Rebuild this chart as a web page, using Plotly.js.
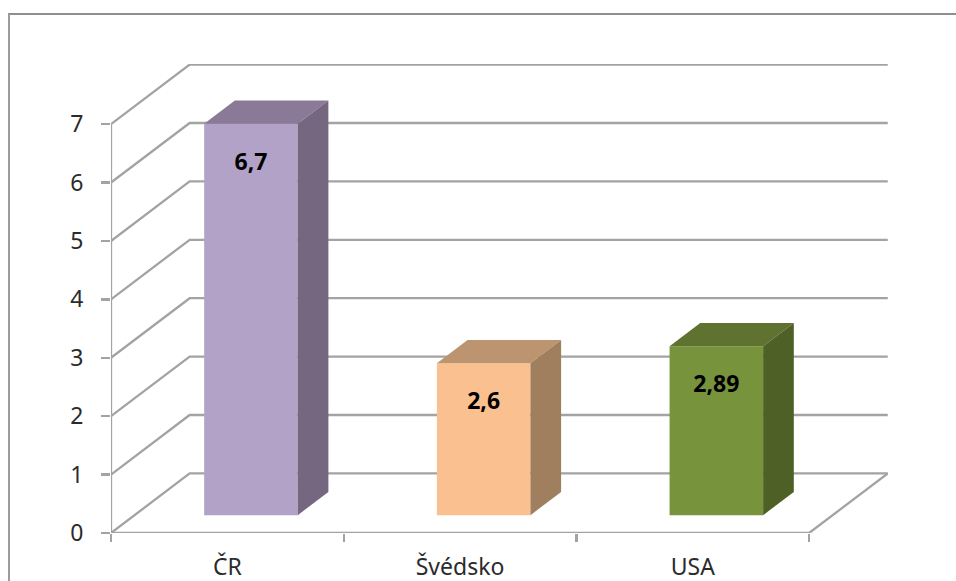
<!DOCTYPE html>
<html>
<head>
<meta charset="utf-8">
<script src="https://cdn.plot.ly/plotly-3.0.1.min.js"></script>
<style>
  html, body { margin: 0; padding: 0; background: #fff; overflow: hidden; }
  #chart { position: absolute; left: 0; top: 0; width: 956px; height: 581px; }
  #frame { position: absolute; left: 8px; top: 13px; right: 0; bottom: 0;
           border-top: 2px solid #8e8e8e; border-left: 2px solid #9c9c9c; pointer-events: none; }
</style>
</head>
<body>
<div id="chart"></div>
<div id="frame"></div>
<script>
const categories = ['ČR', 'Švédsko', 'USA'];
const values = [6.7, 2.6, 2.89];
const frontColors = ['#b2a2c7', '#fac090', '#77933c'];
const topColors = ['#8a7a97', '#bc9470', '#5f7230'];
const sideColors = ['#75677f', '#a07f5f', '#4f6026'];
const valueTicks = [0, 1, 2, 3, 4, 5, 6, 7];

// Oblique projection: how far one full step of depth shifts a point, in axis units.
const depthX = 0.338, depthY = 1.02;
const barStart = 0.3, barDepth = 0.39, barWidth = 0.402;
const labelDrop = 0.69;

const left = -0.5, right = categories.length - 0.5;
const gridColor = '#a3a3a3';
const textColor = '#2b2b2b';
const traces = [];

function wallLine(xs, ys) {
  traces.push({ type: 'scatter', mode: 'lines', x: xs, y: ys, xaxis: 'x', yaxis: 'y',
    cliponaxis: false, hoverinfo: 'skip', showlegend: false,
    line: { color: gridColor, width: 2.3 } });
}

// Back wall rules and the diagonals running across the left wall.
valueTicks.forEach(k => {
  wallLine([left, left + depthX, right + depthX], [k, k + depthY, k + depthY]);
});
// Front axis line, floor edge on the right.
wallLine([left, left], [0, valueTicks[valueTicks.length - 1]]);
wallLine([left, right, right + depthX], [0, 0, depthY]);

// Column faces.
const base = barStart * depthY;
const centers = categories.map((c, i) => i + barStart * depthX);
traces.push({ type: 'bar', x: centers, y: values, base: base, width: barWidth,
  xaxis: 'x2', yaxis: 'y2', hoverinfo: 'skip', showlegend: false,
  marker: { color: frontColors, line: { width: 0 } } });

function face(xs, ys, color) {
  traces.push({ type: 'scatter', mode: 'lines', x: xs, y: ys, xaxis: 'x2', yaxis: 'y2',
    fill: 'toself', fillcolor: color, line: { width: 0, color: color },
    cliponaxis: false, hoverinfo: 'skip', showlegend: false });
}
const dx = barDepth * depthX, dy = barDepth * depthY;
values.forEach((v, i) => {
  const l = centers[i] - barWidth / 2, r = centers[i] + barWidth / 2, t = base + v;
  face([l, r, r + dx, l + dx, l], [t, t, t + dy, t + dy, t], topColors[i]);
  face([r, r + dx, r + dx, r, r], [base, base + dy, t + dy, t, base], sideColors[i]);
});

// Value captions on the front faces, decimal comma as printed.
traces.push({ type: 'scatter', mode: 'text', x: centers, y: values.map(v => base + v - labelDrop),
  text: values.map(v => String(v).replace('.', ',')), textposition: 'middle center',
  textfont: { family: '"Noto Sans", sans-serif', size: 23, color: '#000', weight: 700 },
  xaxis: 'x2', yaxis: 'y2', cliponaxis: false, hoverinfo: 'skip', showlegend: false });

const xRange = [left, right + depthX + 0.001];
const yRange = [0, 8.03];
const layout = {
  width: 956, height: 581,
  margin: { l: 111, r: 68, t: 64, b: 48, pad: 0 },
  paper_bgcolor: 'rgba(0,0,0,0)', plot_bgcolor: 'rgba(0,0,0,0)',
  showlegend: false, barmode: 'overlay',
  font: { family: '"Noto Sans", sans-serif', size: 23, color: textColor },
  xaxis: { range: xRange, showgrid: false, zeroline: false, showline: false,
    tickmode: 'array', tickvals: categories.map((c, i) => i - 0.5).concat(right), ticktext: ['', '', '', ''],
    ticks: 'outside', ticklen: 8, tickwidth: 2.3, tickcolor: gridColor },
  yaxis: { range: yRange, showgrid: false, zeroline: false, showline: false,
    tickmode: 'array', tickvals: valueTicks, ticktext: valueTicks.map(String),
    ticks: 'outside', ticklen: 9, tickwidth: 2.3, tickcolor: gridColor, ticklabelstandoff: 13,
    tickfont: { size: 23, color: textColor } },
  xaxis2: { range: xRange, overlaying: 'x', anchor: 'y2', side: 'bottom', showgrid: false,
    zeroline: false, showline: false, tickmode: 'array',
    tickvals: categories.map((c, i) => i), ticktext: categories,
    ticks: 'outside', ticklen: 13, tickcolor: 'rgba(0,0,0,0)',
    tickfont: { size: 23, color: textColor } },
  yaxis2: { range: yRange, overlaying: 'y', anchor: 'x2', showgrid: false, zeroline: false,
    showline: false, showticklabels: false, ticks: '' }
};

Plotly.newPlot('chart', traces, layout, { displayModeBar: false, staticPlot: true });
</script>
</body>
</html>
